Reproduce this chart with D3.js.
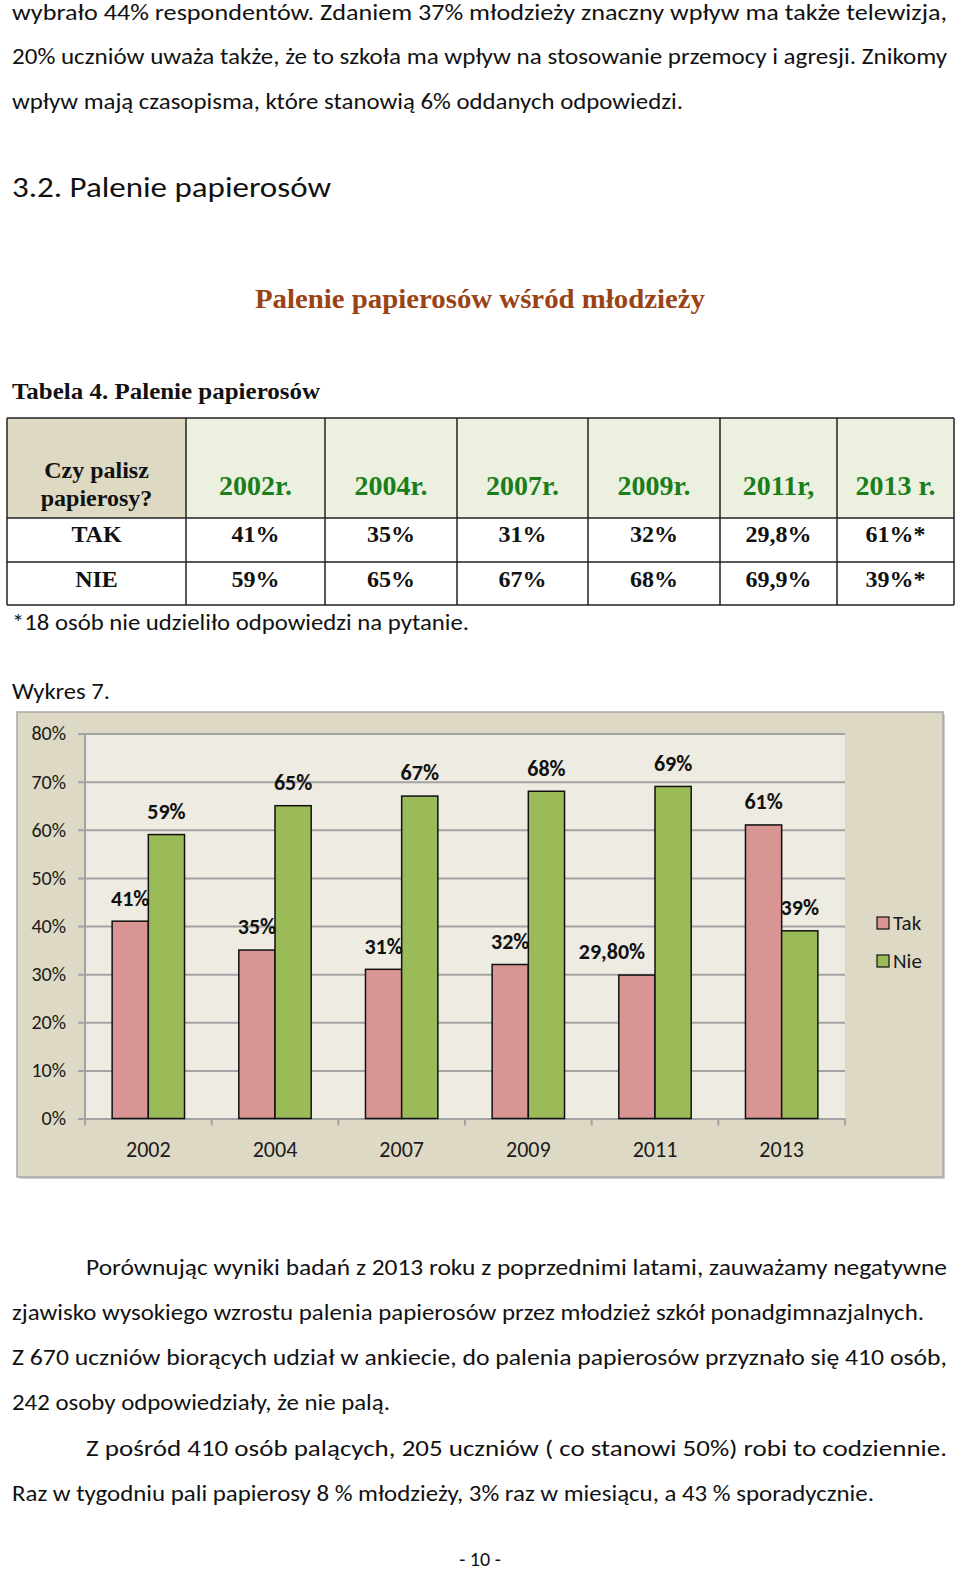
<!DOCTYPE html>
<html>
<head>
<meta charset="utf-8">
<script src="https://cdn.jsdelivr.net/npm/d3@7"></script>
<style>
  html, body { margin: 0; padding: 0; background: #fff; }
  svg { display: block; }
</style>
</head>
<body>
<div id="page"></div>
<script>
// ---------- DATA ----------
const categories = ["2002", "2004", "2007", "2009", "2011", "2013"];
const seriesNames = ["Tak", "Nie"];
const takValues = [41, 35, 31, 32, 29.8, 61];
const nieValues = [59, 65, 67, 68, 69, 39];
const yTicks = [0, 10, 20, 30, 40, 50, 60, 70, 80];

const tableHeaderYears = ["2002r.", "2004r.", "2007r.", "2009r.", "2011r,", "2013 r."];
const tableTak = ["41%", "35%", "31%", "32%", "29,8%", "61%*"];
const tableNie = ["59%", "65%", "67%", "68%", "69,9%", "39%*"];

const topParagraph = [
  "wybrało 44% respondentów. Zdaniem 37% młodzieży znaczny wpływ ma także telewizja,",
  "20% uczniów uważa także, że to szkoła ma wpływ na stosowanie przemocy i agresji. Znikomy",
  "wpływ mają czasopisma, które stanowią 6% oddanych odpowiedzi."
];
const bottomParagraph = [
  "Porównując wyniki badań z 2013 roku z poprzednimi latami, zauważamy negatywne",
  "zjawisko wysokiego wzrostu palenia papierosów przez młodzież szkół ponadgimnazjalnych.",
  "Z 670 uczniów biorących udział w ankiecie, do palenia papierosów przyznało się 410 osób,",
  "242 osoby odpowiedziały, że nie palą.",
  "Z pośród 410 osób palących, 205 uczniów ( co stanowi 50%) robi to codziennie.",
  "Raz w tygodniu pali papierosy 8 % młodzieży, 3% raz w miesiącu, a 43 % sporadycznie."
];

// ---------- LAYOUT ----------
const W = 960, H = 1570;
const SANS = "Carlito, Calibri, Lato, 'Liberation Sans', sans-serif";
const SERIF = "'Liberation Serif', 'Times New Roman', serif";
const DY = 3; // baseline correction for text lines

const svg = d3.select("#page").append("svg")
  .attr("width", W).attr("height", H)
  .attr("viewBox", `0 0 ${W} ${H}`);
svg.append("rect").attr("width", W).attr("height", H).attr("fill", "#fff");

function line(text, x, y, opts) {
  const t = svg.append("text")
    .attr("x", x).attr("y", y + DY)
    .attr("dominant-baseline", "middle")
    .attr("font-family", opts.family || SANS)
    .attr("font-size", opts.size || 22)
    .attr("font-weight", opts.weight || "normal")
    .attr("fill", opts.fill || "#111")
    .attr("text-anchor", opts.anchor || "start")
    .text(text);
  if (opts.width) {
    t.attr("textLength", opts.width).attr("lengthAdjust", "spacingAndGlyphs");
  }
  return t;
}

// top paragraph
const topLayout = [[12, 12, 935], [12, 56, 935], [12, 101, 671]];
topParagraph.forEach((s, i) => line(s, topLayout[i][0], topLayout[i][1], {size: 22, width: topLayout[i][2]}));

// heading
line("3.2. Palenie papierosów", 12, 187, {size: 29, width: 319});

// chart title (above table)
line("Palenie papierosów wśród młodzieży", 480, 299, {family: SERIF, size: 27, weight: "bold", fill: "#9a4314", anchor: "middle", width: 450});

// table caption
line("Tabela 4. Palenie papierosów", 12, 390, {family: SERIF, size: 24, weight: "bold", width: 308});

// ---------- TABLE ----------
const colEdges = [7, 186, 325, 457, 588, 720, 837, 954];
const rowEdges = [418, 518, 562, 605];
const tg = svg.append("g");
tg.append("rect").attr("x", colEdges[0]).attr("y", rowEdges[0])
  .attr("width", colEdges[1] - colEdges[0]).attr("height", rowEdges[1] - rowEdges[0])
  .attr("fill", "#ddd9c3");
tableHeaderYears.forEach((h, i) => {
  tg.append("rect").attr("x", colEdges[i + 1]).attr("y", rowEdges[0])
    .attr("width", colEdges[i + 2] - colEdges[i + 1]).attr("height", rowEdges[1] - rowEdges[0])
    .attr("fill", "#ebf1de");
});
colEdges.forEach(x => tg.append("line").attr("x1", x).attr("x2", x)
  .attr("y1", rowEdges[0]).attr("y2", rowEdges[3]).attr("stroke", "#222").attr("stroke-width", 1.5));
rowEdges.forEach(y => tg.append("line").attr("x1", colEdges[0]).attr("x2", colEdges[7])
  .attr("y1", y).attr("y2", y).attr("stroke", "#222").attr("stroke-width", 1.5));
const c0 = (colEdges[0] + colEdges[1]) / 2;
line("Czy palisz", c0, 469, {family: SERIF, size: 24, weight: "bold", anchor: "middle"});
line("papierosy?", c0, 497, {family: SERIF, size: 24, weight: "bold", anchor: "middle"});
tableHeaderYears.forEach((h, i) => {
  const cx = (colEdges[i + 1] + colEdges[i + 2]) / 2;
  line(h, cx, 486, {family: SERIF, size: 28, weight: "bold", fill: "#1b7d1b", anchor: "middle"});
});
line("TAK", c0, 533, {family: SERIF, size: 24, weight: "bold", anchor: "middle"});
line("NIE", c0, 578, {family: SERIF, size: 24, weight: "bold", anchor: "middle"});
tableTak.forEach((v, i) => {
  const cx = (colEdges[i + 1] + colEdges[i + 2]) / 2;
  line(v, cx, 533, {family: SERIF, size: 24, weight: "bold", anchor: "middle"});
});
tableNie.forEach((v, i) => {
  const cx = (colEdges[i + 1] + colEdges[i + 2]) / 2;
  line(v, cx, 578, {family: SERIF, size: 24, weight: "bold", anchor: "middle"});
});

line("*18 osób nie udzieliło odpowiedzi na pytanie.", 12, 622, {size: 22, width: 457});
line("Wykres 7.", 12, 691, {size: 22, width: 98});

// ---------- CHART ----------
const box = {x: 17, y: 712, w: 926, h: 465};
const plot = {x0: 85, x1: 845, y0: 1118.5, y1: 733.5};

svg.append("rect").attr("x", box.x + 2).attr("y", box.y + 2).attr("width", box.w).attr("height", box.h)
  .attr("fill", "#cfcfcf");
svg.append("rect").attr("x", box.x).attr("y", box.y).attr("width", box.w).attr("height", box.h)
  .attr("fill", "#ddd9c4").attr("stroke", "#a6a6a6").attr("stroke-width", 1.5);
svg.append("rect").attr("x", plot.x0).attr("y", plot.y1)
  .attr("width", plot.x1 - plot.x0).attr("height", plot.y0 - plot.y1)
  .attr("fill", "#edebe2");

const x0 = d3.scaleBand().domain(categories).range([plot.x0, plot.x1]).padding(0);
const x1 = d3.scaleBand().domain(seriesNames).range([0, x0.bandwidth()]).paddingInner(0).paddingOuter(0.75);
const y = d3.scaleLinear().domain([0, 80]).range([plot.y0, plot.y1]);
const colors = {Tak: "#d99594", Nie: "#9bbb59"};

// gridlines
const yg = svg.append("g").attr("transform", `translate(${plot.x1},0)`)
  .call(d3.axisLeft(y).tickValues(yTicks).tickSize(plot.x1 - plot.x0 + 7).tickFormat(""));
yg.select(".domain").remove();
yg.selectAll(".tick line").attr("stroke", "#a3a3a3").attr("stroke-width", 2);

// y labels
const ylab = svg.append("g").attr("transform", `translate(${plot.x0 - 7},0)`)
  .call(d3.axisLeft(y).tickValues(yTicks).tickSize(0).tickPadding(12).tickFormat(d => d + "%"));
ylab.select(".domain").remove();
ylab.selectAll("text").attr("font-family", SANS).attr("font-size", 20).attr("fill", "#1a1a1a");

// vertical axis line
svg.append("line").attr("x1", plot.x0).attr("x2", plot.x0).attr("y1", plot.y1).attr("y2", plot.y0)
  .attr("stroke", "#a3a3a3").attr("stroke-width", 2);

// x axis
const xg = svg.append("g").attr("transform", `translate(0,${plot.y0})`)
  .call(d3.axisBottom(x0).tickSize(0).tickPadding(23));
xg.select(".domain").attr("stroke", "#a3a3a3").attr("stroke-width", 2);
xg.selectAll("text").attr("font-family", SANS).attr("font-size", 22).attr("fill", "#1a1a1a");
const bounds = categories.map(c => x0(c)).concat([x0(categories[categories.length - 1]) + x0.bandwidth()]);
svg.append("g").selectAll("line").data(bounds).join("line")
  .attr("x1", d => d).attr("x2", d => d).attr("y1", plot.y0).attr("y2", plot.y0 + 7)
  .attr("stroke", "#a3a3a3").attr("stroke-width", 2);

// bars
const rows = categories.map((c, i) => ({cat: c, Tak: takValues[i], Nie: nieValues[i]}));
const groups = svg.append("g").selectAll("g").data(rows).join("g")
  .attr("transform", d => `translate(${x0(d.cat)},0)`);
groups.selectAll("rect").data(d => seriesNames.map(s => ({s, v: d[s]}))).join("rect")
  .attr("x", d => x1(d.s)).attr("width", x1.bandwidth())
  .attr("y", d => y(d.v)).attr("height", d => y(0) - y(d.v))
  .attr("fill", d => colors[d.s]).attr("stroke", "#111").attr("stroke-width", 1.5);

// data labels
const fmt = v => (Number.isInteger(v) ? v : v.toFixed(2).replace(".", ",")) + "%";
const labelShift = {"Tak-2011": -25}; // label nudged left in the original
groups.selectAll("text.lbl").data(d => seriesNames.map(s => ({s, v: d[s], cat: d.cat}))).join("text")
  .attr("class", "lbl")
  .attr("x", d => x1(d.s) + x1.bandwidth() / 2 + (labelShift[d.s + "-" + d.cat] || 0))
  .attr("y", d => y(d.v) - 21)
  .attr("dominant-baseline", "middle")
  .attr("text-anchor", "middle")
  .attr("font-family", SANS).attr("font-size", 22).attr("font-weight", "bold").attr("fill", "#111")
  .text(d => fmt(d.v));

// legend
const leg = svg.append("g").selectAll("g").data(seriesNames).join("g")
  .attr("transform", (d, i) => `translate(877,${923 + i * 38})`);
leg.append("rect").attr("x", 0).attr("y", -6).attr("width", 12).attr("height", 12)
  .attr("fill", d => colors[d]).attr("stroke", "#111").attr("stroke-width", 1.2);
leg.append("text").attr("x", 16).attr("y", 2).attr("dominant-baseline", "middle")
  .attr("font-family", SANS).attr("font-size", 21).attr("fill", "#1a1a1a").text(d => d);

// ---------- BOTTOM TEXT ----------
const bottomLayout = [[86, 1267, 861], [12, 1312, 912], [12, 1357, 935], [12, 1402, 378], [86, 1448, 861], [12, 1493, 862]];
bottomParagraph.forEach((s, i) => line(s, bottomLayout[i][0], bottomLayout[i][1], {size: 22, width: bottomLayout[i][2]}));

line("- 10 -", 480, 1558, {size: 20, anchor: "middle"});
</script>
</body>
</html>
